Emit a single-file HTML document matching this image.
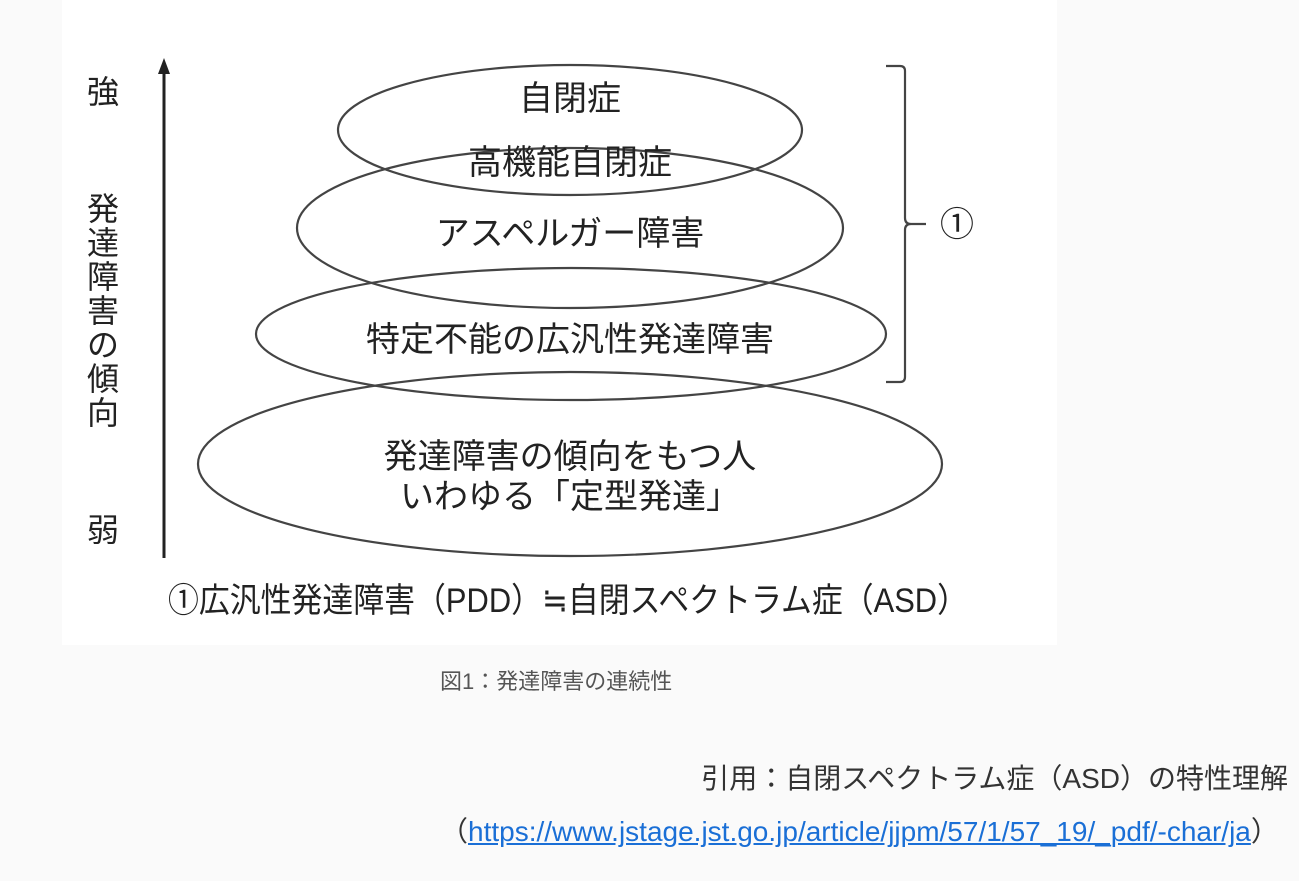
<!DOCTYPE html>
<html><head><meta charset="utf-8"><style>
html,body{margin:0;padding:0;background:#fafafa;width:1299px;height:881px;overflow:hidden;font-family:"Liberation Sans","Noto Sans CJK JP",sans-serif}
.fig{position:absolute;left:62px;top:0;width:995px;height:645px;background:#fff}
svg{position:absolute;left:0;top:0}
.cap{position:absolute;left:440px;top:664px;font-size:22px;color:#555;white-space:nowrap}
.cite{position:absolute;right:11px;top:757px;font-size:28px;color:#333;white-space:nowrap}
.link{position:absolute;left:440px;top:810px;font-size:28px;color:#333;white-space:nowrap}
.link a{color:#1a6fd6;text-decoration:underline}
</style></head><body>
<div class="fig"></div>
<svg width="1299" height="881" font-family="'Liberation Sans','Noto Sans CJK JP',sans-serif" fill="#222">
<g fill="none" stroke="#444" stroke-width="2.2">
<ellipse cx="570" cy="130" rx="232" ry="65"/>
<ellipse cx="570" cy="228" rx="273" ry="80"/>
<ellipse cx="571" cy="334" rx="315" ry="66"/>
<ellipse cx="570" cy="464" rx="372" ry="92"/>
<path d="M886 66 L900 66 Q905 66 905 71 L905 218 Q905 224 911 224 L926 224 M911 224 Q905 224 905 230 L905 377 Q905 382 900 382 L886 382"/>
<line x1="164" y1="70" x2="164" y2="558" stroke="#222" stroke-width="3"/>
</g>
<polygon points="164,58 158,74 170,74" fill="#222"/>
<g font-size="34" text-anchor="middle">
<text x="570" y="110">自閉症</text>
<text x="570" y="174">高機能自閉症</text>
<text x="570" y="245">アスペルガー障害</text>
<text x="570" y="351">特定不能の広汎性発達障害</text>
<text x="570" y="468">発達障害の傾向をもつ人</text>
<text x="570" y="508">いわゆる「定型発達」</text>
</g>
<g font-size="32" text-anchor="middle">
<text x="103" y="103">強</text>
<text x="103" y="541">弱</text>
<text x="103" y="220">発</text>
<text x="103" y="254">達</text>
<text x="103" y="288">障</text>
<text x="103" y="322">害</text>
<text x="103" y="356">の</text>
<text x="103" y="390">傾</text>
<text x="103" y="424">向</text>
<text x="957" y="236" font-size="34">①</text>
</g>
<text x="168" y="612" font-size="34" textLength="800" lengthAdjust="spacingAndGlyphs">①広汎性発達障害（PDD）≒自閉スペクトラム症（ASD）</text>
</svg>
<div class="cap">図1：発達障害の連続性</div>
<div class="cite">引用：自閉スペクトラム症（ASD）の特性理解</div>
<div class="link">（<a>https://www.jstage.jst.go.jp/article/jjpm/57/1/57_19/_pdf/-char/ja</a>）</div>
</body></html>
